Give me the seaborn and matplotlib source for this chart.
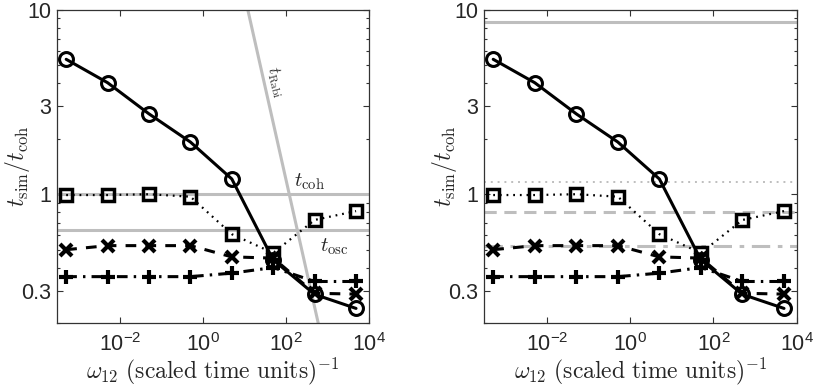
import numpy as np
import pandas as pd
import matplotlib
matplotlib.use("Agg")
import matplotlib.pyplot as plt
import seaborn as sns

# ---- data ----
omega = [5e-4, 5e-3, 5e-2, 0.5, 5, 50, 500, 5000]
circ = [5.4, 4.03, 2.73, 1.92, 1.21, 0.44, 0.286, 0.24]
squa = [0.99, 0.99, 1.0, 0.97, 0.607, 0.48, 0.725, 0.81]
cross = [0.50, 0.526, 0.526, 0.526, 0.457, 0.45, 0.29, 0.287]
plus = [0.357, 0.357, 0.357, 0.357, 0.373, 0.40, 0.336, 0.336]

t_coh = 1.0
t_osc = 0.64
rabi_const = 122.0
right_refs = [8.65, 1.17, 0.80, 0.526]
yticks = [0.3, 1, 3, 10]
ytick_labels = ["0.3", "1", "3", "10"]
xticks = [1e-2, 1e0, 1e2, 1e4]

sns.set_style("ticks")
plt.rcParams["mathtext.fontset"] = "cm"
plt.rcParams["font.family"] = ["Liberation Sans", "DejaVu Sans"]

W, H = 817, 390
fig = plt.figure(figsize=(W / 100, H / 100), dpi=100)
ax1 = fig.add_axes([57 / W, (H - 323) / H, 311.5 / W, 313 / H])
ax2 = fig.add_axes([484 / W, (H - 323) / H, 312.5 / W, 313 / H])

gray = "#bebebe"
series = [
    (circ, "-", "o", 10, 2.2, 2.2),
    (squa, (0, (0.8, 2.2)), "s", 9, 2.5, 1.6),
    (cross, (0, (3.5, 3)), "x", 8, 3.0, 2.2),
    (plus, (0, (3.5, 2, 0.8, 2)), "+", 10, 3.0, 2.2),
]

def draw(ax):
    for vals, ls, mk, ms, mew, lw in series:
        df = pd.DataFrame({"x": omega, "y": vals})
        sns.lineplot(data=df, x="x", y="y", ax=ax, color="black", lw=lw,
                     linestyle=ls, marker=mk, markersize=ms,
                     markerfacecolor="none" if mk in "os" else "black",
                     markeredgecolor="black", markeredgewidth=mew,
                     zorder=5)
    ax.set_xscale("log")
    ax.set_yscale("log")
    ax.set_xlim(3e-4, 1e4)
    ax.set_ylim(0.2, 10)
    ax.set_yticks(yticks)
    ax.set_yticklabels(ytick_labels)
    ax.set_xticks(xticks)
    ax.xaxis.set_minor_locator(matplotlib.ticker.NullLocator())
    ax.yaxis.set_minor_locator(matplotlib.ticker.LogLocator(base=10, subs=np.arange(2, 10)))
    ax.yaxis.set_minor_formatter(matplotlib.ticker.NullFormatter())
    ax.tick_params(which="both", direction="in", top=True, right=True,
                   labelsize=15.5, width=0.8, color="#333333")
    ax.tick_params(which="major", length=4)
    ax.tick_params(which="minor", length=2.5)
    ax.tick_params(axis="x", pad=7)
    ax.tick_params(axis="y", pad=4)
    for s in ax.spines.values():
        s.set_linewidth(0.9)
        s.set_color("#333333")
    ax.set_xlabel(r"$\omega_{12}\ \mathrm{(scaled\ time\ units)}^{-1}$", fontsize=17,
                  labelpad=0)
    ax.set_ylabel(r"$t_{\rm sim}/t_{\rm coh}$", fontsize=17)
    ax.yaxis.set_label_coords(-0.080, 0.5)

draw(ax1)
draw(ax2)

# left panel reference lines
ax1.axhline(t_coh, color=gray, lw=2.2, zorder=2)
ax1.axhline(t_osc, color=gray, lw=2.2, zorder=2)
xr = np.array([1.0, 1e4])
ax1.plot(xr, rabi_const / xr, color=gray, lw=2.2, zorder=2)
ax1.text(380, 1.17, r"$t_{\rm coh}$", fontsize=15, ha="center", va="center")
ax1.text(1510, 0.52, r"$t_{\rm osc}$", fontsize=15, ha="center", va="center")
ax1.text(57, 4.07, r"$t_{\rm Rabi}$", fontsize=12, ha="center", va="center",
         rotation=-76, color="#333333")

# right panel reference lines
ax2.axhline(right_refs[0], color=gray, lw=2.2, ls="-", zorder=2)
ax2.axhline(right_refs[1], color=gray, lw=1.4, ls=(0, (1, 2.5)), zorder=2)
ax2.axhline(right_refs[2], color=gray, lw=2.2, ls=(0, (4, 2.5)), zorder=2)
ax2.axhline(right_refs[3], color=gray, lw=2.2, ls=(0, (6, 2.5, 1.5, 2.5)), zorder=2)

fig.savefig("out.png", dpi=100)
